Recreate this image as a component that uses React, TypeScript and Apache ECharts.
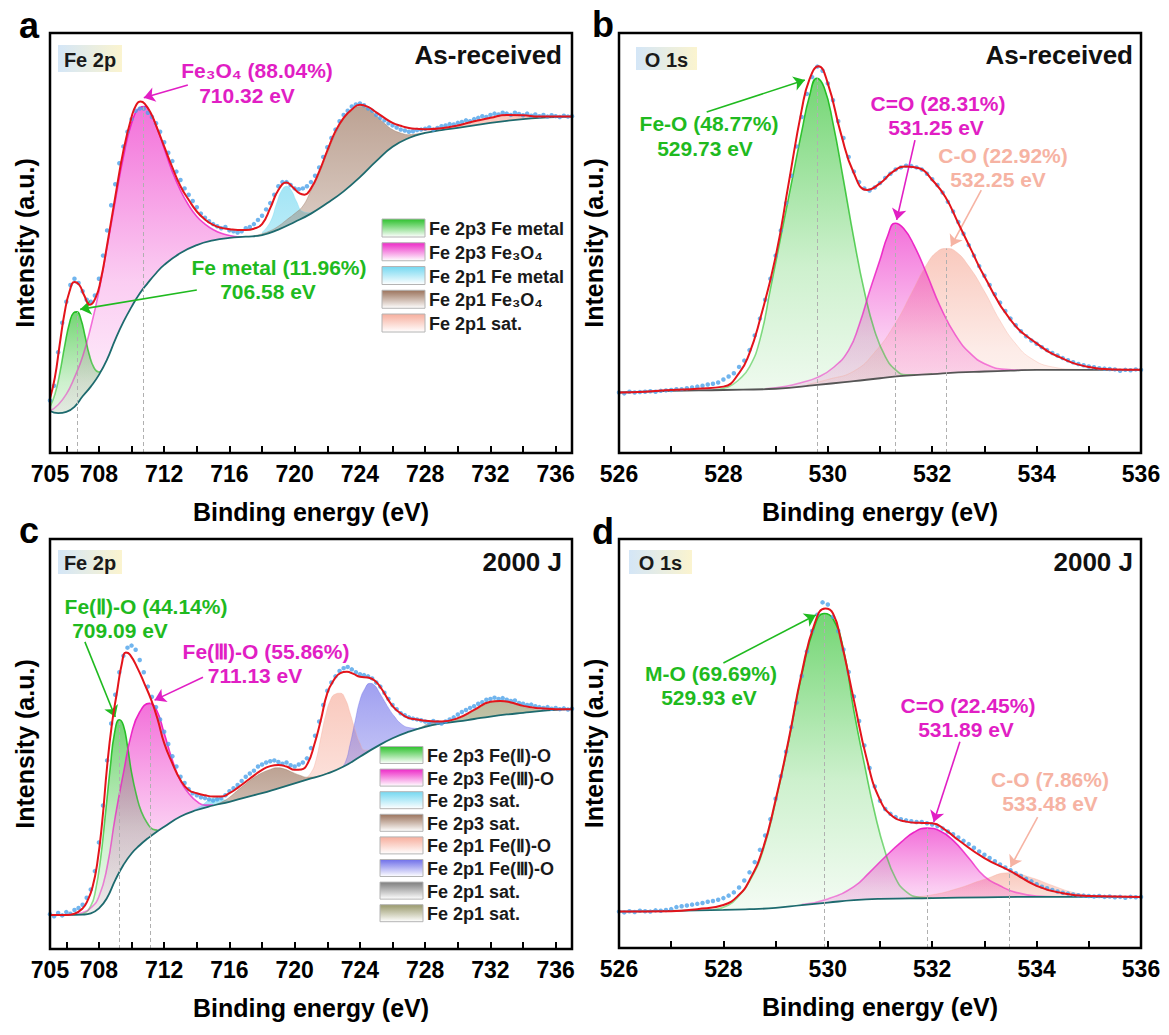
import React, { useEffect, useRef } from 'react';
import * as echarts from 'echarts';

const FONT = '"Liberation Sans", Arial, Helvetica, sans-serif';

// ---------- axes ----------
const FE_LABELS = [705, 708, 712, 716, 720, 724, 728, 732, 736];
const FE_TICKS = [706, 708, 710, 712, 714, 716, 718, 720, 722, 724, 726, 728, 730, 732, 734, 736];
const O_LABELS = [526, 528, 530, 532, 534, 536];
const O_TICKS = [527, 528, 529, 530, 531, 532, 533, 534, 535];

// ---------- legends ----------
const LEGEND_A = ['Fe 2p3 Fe metal', 'Fe 2p3 Fe₃O₄', 'Fe 2p1 Fe metal', 'Fe 2p1 Fe₃O₄', 'Fe 2p1 sat.'];
const LEGEND_C = ['Fe 2p3 Fe(Ⅱ)-O', 'Fe 2p3 Fe(Ⅲ)-O', 'Fe 2p3 sat.', 'Fe 2p3 sat.', 'Fe 2p1 Fe(Ⅱ)-O', 'Fe 2p1 Fe(Ⅲ)-O', 'Fe 2p1 sat.', 'Fe 2p1 sat.'];

// ---------- panel a : Fe 2p as-received ----------
const DOTS_A_START = 705, DOTS_A_STEP = 0.25;
const dotsA = [12.5, 16, 24, 31, 36, 40, 41.5, 40.5, 38.5, 36.5,
  36, 37.5, 41.5, 47, 53, 59, 64, 69, 73, 76.5,
  79.5, 81.5, 82, 82, 81, 80, 78.5, 76.5, 74, 71.5,
  69.5, 67, 65, 63, 61.5, 60, 58.5, 57, 56, 55.2,
  54.5, 54, 53.5, 53.8, 53, 52.8, 52.5, 52.8, 53.5, 53.8,
  54.5, 55.5, 56.5, 58, 59.5, 61.5, 63.5, 64.5, 64.5, 63.8,
  63, 62.8, 63, 63.5, 64.5, 66, 68, 70.5, 72.8, 75,
  77, 79, 80.5, 81.5, 82.5, 83, 83.2, 82.8, 82, 81.5,
  80.5, 79.8, 79.2, 78.5, 78, 77.5, 77, 76.8, 76.5, 76.6,
  76.9, 77, 77.2, 77.5, 77, 77.4, 77.8, 78, 78.3, 78.2,
  78.6, 78.8, 79.2, 79, 79.5, 79.8, 80.2, 80, 80.5, 80.8,
  80.6, 81, 80.8, 80.5, 81, 80.7, 80.4, 80.8, 80.3, 80.6,
  80.2, 80.5, 80.1, 80.4, 80.2, 80, 80.3, 80.1, 80.2];
const fitA = [[705, 13], [705.3, 18], [705.6, 26], [705.9, 33.5], [706.2, 38.5], [706.5, 40.7], [706.8, 40], [707.1, 37.5], [707.45, 35.3], [707.8, 37], [708.1, 41], [708.5, 49.5], [709, 61], [709.5, 72], [710, 80], [710.3, 83], [710.55, 83.7], [710.8, 83.2], [711.2, 80.8], [711.6, 77], [712, 73], [712.5, 68], [713, 63.5], [713.5, 60.3], [714, 57.5], [714.5, 55.6], [715, 54.3], [715.5, 53.6], [716, 53.3], [716.5, 53.1], [717, 53.1], [717.5, 53.4], [718, 54.5], [718.5, 58.3], [719, 62.6], [719.5, 64.4], [719.9, 63.2], [720.3, 61.8], [720.6, 61.5], [721, 63], [721.5, 67], [722, 72], [722.5, 76.6], [723, 79.8], [723.5, 81.8], [724, 82.9], [724.5, 82.4], [725, 81.1], [725.5, 79.8], [726, 78.6], [726.5, 77.9], [727, 77.4], [727.5, 77.2], [728.2, 77.1], [729, 77.3], [730, 78], [731, 79], [732, 79.8], [733, 80.5], [734, 80.4], [735, 80.1], [736, 80.1], [737, 80.1]];
const bgA = [[705, 10], [705.5, 9.5], [706, 9.8], [706.5, 11], [707, 13.5], [707.5, 15.8], [708, 18.6], [708.5, 22.3], [709, 27], [709.5, 31.2], [710, 34.8], [710.5, 38], [711, 40.5], [711.5, 42.8], [712, 44.8], [713, 47.6], [714, 49.5], [715, 50.6], [716, 51.2], [717, 51.5], [718, 51.9], [719, 53.2], [720, 55], [721, 57], [722, 59.5], [723, 62.3], [724, 65.7], [725, 69.5], [726, 72.9], [727, 75], [728, 76.2], [729, 76.9], [730, 77.4], [731, 78], [732, 78.6], [733, 79.1], [734, 79.5], [735, 79.8], [736, 80], [737, 80.1]];
const feMetal2p3A = [[705, 11], [705.3, 14], [705.6, 19], [705.9, 25.5], [706.2, 31], [706.45, 33.4], [706.65, 33.6], [706.9, 31.8], [707.15, 27.8], [707.4, 23.5], [707.7, 20.3], [708, 19.3], [708.3, 20.6]];
const fe3o42p3A = [[705, 10], [705.5, 11.5], [706, 14], [706.5, 18], [707, 23], [707.5, 30], [708, 38.5], [708.5, 49], [709, 60], [709.5, 70.5], [710, 78.5], [710.5, 82.2], [710.8, 82.5], [711.2, 80.5], [711.6, 77], [712, 72.5], [712.5, 67], [713, 62.5], [713.5, 59], [714, 56.3], [714.5, 54.5], [715, 53.2], [715.5, 52.3], [716, 51.8], [716.5, 51.5], [717, 51.5]];
const feMetal2p1A = [[718, 52.5], [718.5, 55], [718.9, 59.5], [719.2, 62.5], [719.5, 63.5], [719.8, 62.5], [720.1, 60], [720.5, 57.5], [721, 57.2], [721.2, 57.5]];
const fe3o42p1A = [[717.5, 51.7], [718, 52.2], [718.5, 52.9], [719, 54], [719.5, 55.5], [720, 57], [720.5, 58.8], [721, 62.5], [721.5, 66.5], [722, 71.5], [722.5, 76], [723, 79.5], [723.5, 81.5], [724, 82.5], [724.5, 82], [725, 80.3], [725.5, 78.5], [726, 77], [726.5, 76.2], [727, 75.8], [727.5, 76], [728, 76.3]];
const sat2p1A = [[728.5, 76.6], [729.5, 77.3], [730.5, 78.2], [731.5, 79.2], [732.5, 80], [733.2, 80.3], [734, 80.2], [735, 80], [736, 80], [737, 80.1]];

// ---------- panel b : O 1s as-received ----------
const DOTS_O_START = 526, DOTS_O_STEP = 0.1;
const dotsB = [14.4, 14.2, 14.6, 14.4, 14.5, 14.6, 14.7, 14.6, 14.8, 14.9,
  15.0, 15.2, 15.2, 15.4, 15.6, 15.8, 16.0, 16.3, 16.5, 16.8,
  17.5, 18.2, 19, 20.5, 22, 24.5, 28, 32, 36.5, 41.5,
  47, 53, 59.5, 66, 73, 80, 85.5, 89.5, 92, 91,
  88, 84, 79, 75, 70.5, 67, 64.5, 63, 62.5, 63.2,
  64.3, 65.5, 66.5, 67.5, 68, 68.4, 68.3, 68, 67.5, 66.5,
  65.2, 63.8, 62, 59.8, 57.5, 55, 52.2, 49.5, 47, 44.5,
  42.2, 40, 37.8, 35.8, 33.8, 32, 30.4, 29, 27.8, 26.8,
  26, 25.2, 24.5, 23.8, 23.2, 22.6, 22.1, 21.6, 21.2, 20.9,
  20.6, 20.4, 20.2, 20.1, 20, 19.9, 19.6, 19.8, 19.7, 19.9, 19.8];
const fitB = [[526, 14.4], [526.5, 14.6], [527, 15], [527.5, 15.3], [528, 15.8], [528.3, 19], [528.5, 23.8], [528.7, 31.7], [529, 46.7], [529.25, 64.2], [529.5, 81.7], [529.65, 89], [529.82, 92.1], [530, 88], [530.25, 76.1], [530.5, 66.6], [530.75, 62.6], [531, 64.2], [531.25, 67], [531.5, 68.2], [531.75, 67.8], [532, 65], [532.25, 61], [532.5, 54.7], [532.75, 48.3], [533, 42], [533.5, 31.7], [534, 26.1], [534.5, 22.5], [535, 20.5], [535.5, 19.9], [536, 19.8]];
const bgB = [[526, 14.4], [527, 14.8], [528, 15], [529, 15.3], [529.8, 16.2], [530.5, 17.1], [531, 17.8], [531.5, 18.4], [532, 18.8], [532.5, 19.2], [533, 19.4], [533.5, 19.6], [534, 19.8], [535, 19.8], [536, 19.8]];
const feOB = [[527.8, 15], [528.1, 15.8], [528.3, 17.5], [528.5, 20.5], [528.7, 27], [528.9, 39], [529.1, 51.5], [529.3, 64], [529.5, 76.5], [529.65, 85], [529.79, 89.2], [529.93, 87], [530.1, 78.5], [530.3, 65], [530.5, 51], [530.7, 38.5], [530.9, 29], [531.1, 23], [531.3, 19.8], [531.5, 18.6], [531.8, 18.6], [532, 18.8]];
const coDoubleB = [[528.8, 15.3], [529.2, 15.9], [529.5, 16.8], [529.8, 18], [530.1, 20.3], [530.4, 24.5], [530.6, 30.5], [530.8, 38.5], [531, 46], [531.15, 51.8], [531.29, 54.7], [531.45, 53.5], [531.65, 49.5], [531.9, 42.5], [532.15, 35], [532.45, 28], [532.75, 23.5], [533.05, 21], [533.4, 19.9], [533.8, 19.7]];
const coSingleB = [[529.6, 16.3], [530, 17.5], [530.5, 19.5], [530.9, 24], [531.3, 31], [531.6, 38], [531.9, 45], [532.1, 48], [532.27, 48.7], [532.45, 48], [532.7, 44.5], [533, 38.5], [533.3, 31.5], [533.6, 26], [533.9, 22.5], [534.3, 20.5], [534.8, 19.9], [535.2, 19.8]];

// ---------- panel c : Fe 2p 2000 J ----------
const dotsC = [8.5, 8, 8.8, 8.2, 9, 8.6, 9.5, 10, 10.8, 12.5,
  14.5, 19, 26, 35, 46, 55, 62, 67.5, 71.5, 73.5,
  74, 73, 70.5, 67.5, 64, 61.5, 59, 56, 53, 50,
  47, 44.5, 42, 40.5, 39, 38, 37.5, 37, 36.8, 36.5,
  36.2, 36.5, 36.8, 37.5, 38.5, 39.2, 40, 41, 42, 42.8,
  43.5, 44.5, 45, 45.5, 45.8, 46, 45.6, 45.2, 45.5, 44.8,
  44.5, 45, 45.5, 46.5, 49, 52, 55.5, 59.5, 63, 65,
  66.5, 67.8, 68.5, 68.8, 68.2, 67.5, 67, 66.8, 66.5, 66,
  65, 64, 62.5, 61, 59.5, 58.5, 57.5, 57, 56.5, 56.2,
  56, 55.8, 55.5, 55.2, 55.6, 55.3, 55, 55.5, 56, 56.5,
  57.2, 57.8, 58.3, 58.8, 59.2, 59.8, 60.2, 60.8, 61, 61.3,
  61, 61.2, 60.8, 60.5, 60.6, 60, 59.8, 59.5, 59.6, 59.2,
  59, 58.8, 59, 58.6, 58.8, 58.5, 58.7, 58.4, 58.6];
const fitC = [[705, 8.3], [706, 8.3], [706.5, 8.6], [707, 9.9], [707.3, 11.8], [707.6, 15], [707.9, 21], [708.2, 31], [708.5, 44.5], [708.8, 55], [709.1, 62.5], [709.4, 69.5], [709.65, 72.3], [709.9, 71.8], [710.4, 68.2], [710.8, 64.6], [711.2, 60.8], [711.6, 56], [712, 50.2], [712.5, 45.3], [713, 41.2], [713.5, 38.8], [714, 38], [714.5, 37.5], [715, 37.2], [715.5, 37.2], [716, 38], [716.5, 39.3], [717, 40.8], [717.5, 42.3], [718, 43.7], [718.5, 44.6], [719, 44.9], [719.5, 44.5], [720, 43.7], [720.4, 43.8], [720.8, 45.3], [721.2, 49.8], [721.6, 55.8], [722, 62.4], [722.4, 65.6], [722.8, 67.3], [723.2, 67.6], [723.6, 67.1], [724, 66.4], [724.5, 66.2], [724.9, 65.5], [725.3, 63.6], [725.7, 61], [726.1, 58.8], [726.5, 57.5], [727, 56.3], [727.5, 56], [728, 55.7], [729, 55.5], [730, 56.3], [731, 58.3], [732, 60.3], [732.6, 60.5], [733.2, 60.2], [734, 59.3], [735, 58.7], [736, 58.5], [737, 58.5]];
const bgC = [[705, 8.3], [706, 8.3], [707, 8.4], [707.5, 8.7], [708, 9.9], [708.5, 12.5], [709, 16.8], [709.5, 20.5], [710, 23.3], [710.5, 25.3], [711, 27], [711.5, 28.5], [712, 29.8], [713, 32.3], [714, 33.9], [715, 35], [716, 35.9], [717, 37], [718, 38], [719, 39.2], [720, 40.4], [721, 41.6], [722, 42.8], [723, 44.5], [724, 46.9], [725, 49.3], [726, 51.4], [727, 53], [728, 54.2], [729, 55], [730, 55.5], [731, 56.1], [732, 56.7], [733, 57.2], [734, 57.6], [735, 58], [736, 58.3], [737, 58.5]];
const fe2p3IIC = [[706.5, 8.3], [707, 8.6], [707.5, 10.5], [707.8, 14.5], [708.1, 22], [708.4, 33], [708.7, 44.5], [708.95, 52.5], [709.25, 55.9], [709.5, 54.5], [709.75, 49.5], [710, 43], [710.3, 37.5], [710.6, 33.5], [711, 30.5], [711.3, 29.2], [711.6, 29]];
const fe2p3IIIC = [[706.5, 8.4], [707, 8.9], [707.5, 10], [708, 12.8], [708.5, 20], [709, 32.3], [709.5, 42.9], [710, 52.6], [710.5, 57.8], [711.1, 59.9], [711.5, 58.6], [712, 52.6], [712.5, 46.1], [713, 41], [713.5, 38], [714, 36], [714.5, 35.1], [715, 35.1]];
const sat2p3aC = [[713.8, 33.9], [714.3, 35], [714.8, 36.5], [715.2, 37], [715.6, 36.5], [716, 36]];
const sat2p3bC = [[715, 35], [715.5, 35.8], [716, 37], [716.5, 38.7], [717, 40.3], [717.5, 41.8], [718, 43], [718.5, 43.8], [718.9, 44.2], [719.3, 44], [719.8, 43.2], [720.3, 42.4], [720.8, 41.9], [721.3, 42], [721.8, 42.6], [722.2, 43.2]];
const fe2p1IIC = [[720.5, 41], [721, 43], [721.3, 46], [721.6, 51.5], [721.9, 57], [722.2, 60.8], [722.5, 62.2], [722.8, 62.4], [723.1, 61], [723.4, 57.5], [723.7, 53.5], [724, 50.2], [724.3, 48.5], [724.6, 48.5]];
const fe2p1IIIC = [[722.8, 44], [723.1, 45.5], [723.4, 50], [723.7, 55.5], [724, 60.7], [724.3, 63.5], [724.6, 64.8], [724.9, 64.3], [725.2, 62.5], [725.5, 60.5], [725.8, 58.5], [726.1, 56.8], [726.5, 55], [727, 54], [727.5, 53.8]];
const sat2p1aC = [[727, 53], [727.7, 54], [728.3, 55.2], [728.8, 55.6], [729.3, 55.4], [730, 55.5]];
const sat2p1bC = [[729, 55], [729.8, 55.8], [730.5, 57], [731.2, 58.6], [731.9, 60], [732.5, 60.6], [733.1, 60.3], [733.8, 59.3], [734.5, 58.6], [735.3, 58.3], [736, 58.3], [737, 58.5]];

// ---------- panel d : O 1s 2000 J ----------
const dotsD = [8.9, 8.7, 9.0, 8.8, 9.1, 9.0, 8.9, 9.2, 9.1, 9.3,
  9.5, 10, 10.2, 10.4, 10.6, 10.8, 11, 11.3, 11.5, 11.8,
  12.2, 12.8, 13.6, 14.8, 16.5, 18.5, 21, 24, 27.5, 31.5,
  36.5, 42, 48, 54, 60, 66.5, 72.5, 77.5, 81.5, 84.5,
  84, 81, 77.5, 73, 67.5, 61.5, 55.5, 49.5, 44, 39.5,
  36, 34, 32.8, 32, 31.5, 31.2, 31, 30.8, 30.8, 30.5,
  30.2, 29.8, 29.2, 28.5, 27.8, 27, 26.2, 25.4, 24.5, 23.6,
  22.8, 22, 21.2, 20.4, 19.7, 19, 18.3, 17.6, 16.9, 16.3,
  15.6, 15, 14.6, 14.2, 13.8, 13.5, 13.3, 13.1, 12.9, 12.8,
  12.7, 12.6, 12.7, 12.5, 12.6, 12.4, 12.5, 12.3, 12.5, 12.4, 12.5];
const fitD = [[526, 8.9], [527, 9], [527.5, 9.5], [528, 10.5], [528.3, 13], [528.5, 16.6], [528.75, 24], [529, 36.2], [529.25, 50.9], [529.5, 67.2], [529.75, 79.4], [529.95, 83], [530.1, 81.8], [530.25, 75.3], [530.5, 60.6], [530.75, 46], [531, 36.2], [531.25, 32.1], [531.5, 30.9], [531.75, 30.6], [532, 30.5], [532.25, 28.9], [532.5, 26.4], [533, 22], [533.5, 18.8], [534, 15.2], [534.5, 13.4], [535, 12.7], [536, 12.5]];
const bgD = [[526, 8.9], [527, 9.1], [528, 9.3], [528.5, 9.5], [529, 9.8], [529.5, 10.5], [530, 11.1], [530.5, 11.7], [531, 12], [532, 12.2], [533, 12.4], [534, 12.5], [536, 12.5]];
const moD = [[527.8, 9.3], [528.1, 10.5], [528.3, 12.8], [528.5, 16.3], [528.75, 23.5], [529, 35.8], [529.25, 50.5], [529.5, 66.7], [529.75, 78.8], [529.93, 81.8], [530.1, 80.5], [530.3, 73], [530.5, 58], [530.7, 45], [530.9, 33], [531.1, 23.5], [531.3, 17], [531.5, 13.8], [531.75, 12.4], [532, 12.2]];
const coDoubleD = [[529.5, 10.6], [530, 12], [530.5, 15], [530.8, 18.5], [531.1, 22.3], [531.4, 25.8], [531.65, 28.3], [531.9, 29.3], [532.15, 28.6], [532.4, 26.3], [532.7, 22], [533, 17.5], [533.3, 15.2], [533.6, 13.6], [534, 12.7], [534.4, 12.5]];
const coSingleD = [[531.5, 12.3], [532, 13], [532.5, 14.6], [533, 16.8], [533.48, 18.4], [533.9, 17.2], [534.3, 15.3], [534.7, 13.6], [535.1, 12.8], [535.5, 12.5]];

// ---------- colours ----------
const C_GREEN = '34,190,34';
const C_MAG = '236,30,196';
const C_CYAN = '110,214,240';
const C_BROWN = '150,108,84';
const C_SALMON = '246,170,152';
const C_BLUE = '104,104,232';
const C_GRAY = '120,120,120';
const C_OLIVE = '148,148,100';
const T_GREEN = '#1fba1f';
const T_MAG = '#e11ec4';
const T_SALMON = '#f6b3a3';
const TEAL = '#1d6a6e';
const SMOOTH = 0.5;

const GRIDS = [
  { left: 50, top: 33, width: 522, height: 420 },
  { left: 619, top: 33, width: 522, height: 420 },
  { left: 50, top: 539, width: 522, height: 410 },
  { left: 619, top: 539, width: 522, height: 409 },
];

const lin = (stops: [number, string][]) =>
  new echarts.graphic.LinearGradient(0, 0, 0, 1, stops.map(([offset, color]) => ({ offset, color })));

function component(gi: number, data: number[][], rgb: string, strongLine: boolean) {
  return {
    type: 'line', xAxisIndex: gi, yAxisIndex: gi, data, z: 2, silent: true,
    smooth: SMOOTH, symbol: 'none', showSymbol: false,
    lineStyle: strongLine
      ? { width: 1.6, color: lin([[0, `rgba(${rgb},1)`], [1, `rgba(${rgb},0.45)`]]) }
      : { width: 1, color: `rgba(${rgb},0.35)` },
    areaStyle: { color: lin([[0, `rgba(${rgb},0.9)`], [0.5, `rgba(${rgb},0.32)`], [1, `rgba(${rgb},0)`]]) },
  };
}

function background(gi: number, data: number[][], color: string) {
  return {
    type: 'line', xAxisIndex: gi, yAxisIndex: gi, data, z: 3, silent: true,
    smooth: SMOOTH, symbol: 'none', showSymbol: false,
    lineStyle: { width: 1.8, color },
    areaStyle: { color: '#ffffff', opacity: 1 },
  };
}

function dots(gi: number, start: number, step: number, values: number[]) {
  return {
    type: 'scatter', xAxisIndex: gi, yAxisIndex: gi, z: 4, silent: true,
    symbol: 'circle', symbolSize: 4.5, itemStyle: { color: '#4da3ea' },
    data: values.map((v, i) => [+(start + i * step).toFixed(2), v]),
  };
}

const arrow = (from: number[], to: number[], color: string) => [
  { coord: from, symbol: 'none', lineStyle: { color, width: 1.6, type: 'solid' } },
  { coord: to, symbol: 'arrow' },
];
const dash = (x: number, top: number) => [
  { coord: [x, 0], symbol: 'none', lineStyle: { color: '#b0b0b0', width: 1, type: [4, 3] } },
  { coord: [x, top], symbol: 'none' },
];

function fit(gi: number, data: number[][], marks: any[]) {
  return {
    type: 'line', xAxisIndex: gi, yAxisIndex: gi, data, z: 5, silent: true,
    smooth: SMOOTH, symbol: 'none', showSymbol: false,
    lineStyle: { width: 2, color: '#e3141b' },
    markLine: { silent: true, symbolSize: 11, label: { show: false }, emphasis: { disabled: true }, data: marks },
  };
}

function xAxis(gi: number, min: number, max: number, labels: number[], ticks: number[]) {
  return {
    gridIndex: gi, type: 'value', min, max, z: 10,
    axisLine: { show: false },
    axisTick: { show: true, inside: true, length: 7, lineStyle: { color: '#000', width: 2 }, customValues: ticks },
    axisLabel: { show: true, customValues: labels, color: '#000', fontSize: 23, fontWeight: 'bold', fontFamily: FONT, margin: 9 },
    splitLine: { show: false },
    name: 'Binding energy (eV)', nameLocation: 'middle', nameGap: 46,
    nameTextStyle: { fontSize: 25, fontWeight: 'bold', color: '#000', fontFamily: FONT },
  };
}

function yAxis(gi: number) {
  return {
    gridIndex: gi, type: 'value', min: 0, max: 100,
    axisLine: { show: false }, axisTick: { show: false }, axisLabel: { show: false }, splitLine: { show: false },
    name: 'Intensity (a.u.)', nameLocation: 'middle', nameGap: 13,
    nameTextStyle: { fontSize: 25, fontWeight: 'bold', color: '#000', fontFamily: FONT },
  };
}

const text = (x: number, y: number, t: string, fill: string, size: number, align = 'center') => ({
  type: 'text', x, y, z: 60,
  style: { text: t, fill, fontSize: size, fontWeight: 'bold', fontFamily: FONT, align, verticalAlign: 'middle' },
});

const badge = (x: number, y: number, w: number, h: number, t: string) => [
  {
    type: 'rect', z: 55, shape: { x, y, width: w, height: h },
    style: { fill: new echarts.graphic.LinearGradient(0, 0, 1, 0, [{ offset: 0, color: '#d4e6f7' }, { offset: 1, color: '#fbf4cf' }]) },
  },
  text(x + w / 2, y + h / 2 + 1, t, '#1a1a1a', 20),
];

function legend(x: number, y0: number, dy: number, w: number, h: number, names: string[], rgbs: string[]) {
  const out: any[] = [];
  names.forEach((n, i) => {
    const cy = y0 + i * dy;
    out.push({
      type: 'rect', z: 55, shape: { x, y: cy - h / 2, width: w, height: h },
      style: { fill: lin([[0, `rgba(${rgbs[i]},0.95)`], [1, 'rgba(255,255,255,1)']]), stroke: '#b4b4b4', lineWidth: 1 },
    });
    out.push(text(x + w + 4, cy + 1, n, '#1a1a1a', 18, 'left'));
  });
  return out;
}

export default function App() {
  const ref = useRef<HTMLDivElement>(null);
  useEffect(() => {
    document.body.style.margin = '0';
    if (!ref.current) return;
    const chart = echarts.init(ref.current, undefined, { renderer: 'svg' });

    const series: any[] = [
      // panel a
      component(0, feMetal2p3A, C_GREEN, true),
      component(0, fe3o42p3A, C_MAG, true),
      component(0, feMetal2p1A, C_CYAN, false),
      component(0, fe3o42p1A, C_BROWN, false),
      component(0, sat2p1A, C_SALMON, false),
      background(0, bgA, TEAL),
      dots(0, DOTS_A_START, DOTS_A_STEP, dotsA),
      fit(0, fitA, [
        dash(706.65, 33.6), dash(710.7, 82.5),
        arrow([713.45, 87.6], [710.75, 84.6], T_MAG),
        arrow([714.0, 38.8], [706.85, 34.2], T_GREEN),
      ]),
      // panel b
      component(1, coSingleB, C_SALMON, false),
      component(1, feOB, C_GREEN, true),
      component(1, coDoubleB, C_MAG, true),
      background(1, bgB, '#555555'),
      dots(1, DOTS_O_START, DOTS_O_STEP, dotsB),
      fit(1, fitB, [
        dash(529.79, 89.2), dash(531.29, 54.7), dash(532.27, 48.7),
        arrow([527.68, 81.2], [529.56, 88.8], T_GREEN),
        arrow([531.67, 74.5], [531.32, 55.5], T_MAG),
        arrow([532.94, 62.6], [532.36, 49.2], T_SALMON),
      ]),
      // panel c
      component(2, fe2p3IIC, C_GREEN, true),
      component(2, fe2p3IIIC, C_MAG, true),
      component(2, sat2p3aC, C_CYAN, false),
      component(2, sat2p3bC, C_BROWN, false),
      component(2, fe2p1IIC, C_SALMON, false),
      component(2, fe2p1IIIC, C_BLUE, false),
      component(2, sat2p1aC, C_GRAY, false),
      component(2, sat2p1bC, C_OLIVE, false),
      background(2, bgC, TEAL),
      dots(2, DOTS_A_START, DOTS_A_STEP, dotsC),
      fit(2, fitC, [
        dash(709.25, 55.9), dash(711.15, 59.9),
        arrow([707.14, 74.9], [709.0, 56.6], T_GREEN),
        arrow([714.38, 66.3], [711.41, 60.7], T_MAG),
      ]),
      // panel d
      component(3, coSingleD, C_SALMON, false),
      component(3, moD, C_GREEN, true),
      component(3, coDoubleD, C_MAG, true),
      background(3, bgD, TEAL),
      dots(3, DOTS_O_START, DOTS_O_STEP, dotsD),
      fit(3, fitD, [
        dash(529.93, 81.8), dash(531.9, 29.3), dash(533.48, 18.4),
        arrow([528.0, 69.7], [529.77, 81.4], T_GREEN),
        arrow([532.53, 50.4], [532.03, 30.8], T_MAG),
        arrow([534.02, 32.0], [533.5, 19.8], T_SALMON),
      ]),
    ];

    const graphics: any[] = [
      ...GRIDS.map((g) => ({
        type: 'rect', z: 100, shape: { x: g.left, y: g.top, width: g.width, height: g.height },
        style: { fill: 'none', stroke: '#000', lineWidth: 2.5 },
      })),
      text(29, 25, 'a', '#000', 36), text(603, 24, 'b', '#000', 36),
      text(29, 530, 'c', '#000', 36), text(603, 531, 'd', '#000', 36),
      ...badge(58, 45, 64, 27, 'Fe 2p'), ...badge(636, 47, 61, 23, 'O 1s'),
      ...badge(58, 550, 64, 24, 'Fe 2p'), ...badge(629, 550, 63, 24, 'O 1s'),
      text(562, 55, 'As-received', '#111', 26, 'right'), text(1133, 55, 'As-received', '#111', 26, 'right'),
      text(562, 562, '2000 J', '#111', 26, 'right'), text(1133, 562, '2000 J', '#111', 26, 'right'),
      // panel a labels
      text(257, 70, 'Fe₃O₄ (88.04%)', T_MAG, 21), text(247, 95, '710.32 eV', T_MAG, 21),
      text(279, 267, 'Fe metal (11.96%)', T_GREEN, 21), text(268, 291, '706.58 eV', T_GREEN, 21),
      // panel b labels
      text(709, 123, 'Fe-O (48.77%)', T_GREEN, 21), text(705, 148, '529.73 eV', T_GREEN, 21),
      text(938, 103, 'C=O (28.31%)', T_MAG, 21), text(936, 127, '531.25 eV', T_MAG, 21),
      text(1003, 155, 'C-O (22.92%)', T_SALMON, 21), text(998, 179, '532.25 eV', T_SALMON, 21),
      // panel c labels
      text(146, 606, 'Fe(Ⅱ)-O (44.14%)', T_GREEN, 21), text(120, 630, '709.09 eV', T_GREEN, 21),
      text(266, 651, 'Fe(Ⅲ)-O (55.86%)', T_MAG, 21), text(255, 675, '711.13 eV', T_MAG, 21),
      // panel d labels
      text(711, 673, 'M-O (69.69%)', T_GREEN, 21), text(709, 697, '529.93 eV', T_GREEN, 21),
      text(968, 705, 'C=O (22.45%)', T_MAG, 21), text(966, 729, '531.89 eV', T_MAG, 21),
      text(1050, 779, 'C-O (7.86%)', T_SALMON, 21), text(1050, 803, '533.48 eV', T_SALMON, 21),
      ...legend(382, 228, 23.75, 43, 18, LEGEND_A, [C_GREEN, C_MAG, C_CYAN, C_BROWN, C_SALMON]),
      ...legend(380, 755, 22.6, 43, 17, LEGEND_C, [C_GREEN, C_MAG, C_CYAN, C_BROWN, C_SALMON, C_BLUE, C_GRAY, C_OLIVE]),
    ];

    chart.setOption({
      animation: false,
      backgroundColor: '#ffffff',
      grid: GRIDS.map((g) => ({ ...g, containLabel: false })),
      xAxis: [
        xAxis(0, 705, 737, FE_LABELS, FE_TICKS),
        xAxis(1, 526, 536, O_LABELS, O_TICKS),
        xAxis(2, 705, 737, FE_LABELS, FE_TICKS),
        xAxis(3, 526, 536, O_LABELS, O_TICKS),
      ],
      yAxis: [yAxis(0), yAxis(1), yAxis(2), yAxis(3)],
      series,
      graphic: graphics,
    });
    return () => chart.dispose();
  }, []);
  return <div ref={ref} style={{ width: 1169, height: 1035 }} />;
}
